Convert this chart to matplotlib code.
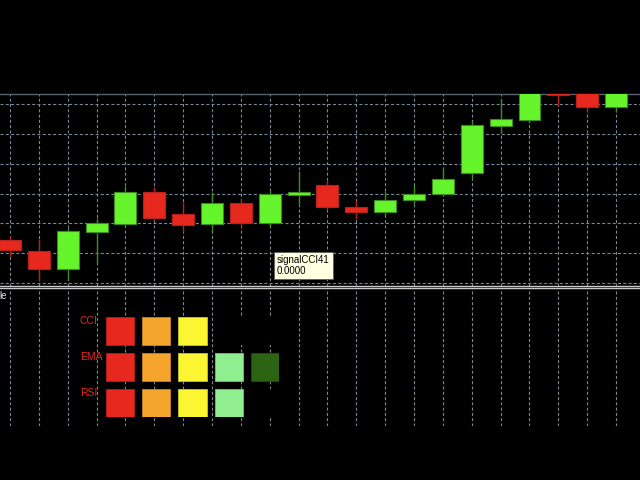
import numpy as np
import matplotlib
matplotlib.use("Agg")
from matplotlib import pyplot as plt
from matplotlib.patches import Rectangle

plt.rcParams['font.family'] = ['Liberation Sans', 'DejaVu Sans']
plt.rcParams['lines.scale_dashes'] = False

# candles (oldest -> newest)
opens = [1.08572, 1.08554, 1.08524, 1.08586, 1.08599, 1.08653, 1.08616, 1.08599, 1.08634, 1.08601, 1.08648,
         1.08664, 1.08627, 1.08619, 1.08639, 1.08649, 1.08684, 1.08763, 1.08773, 1.08832, 1.08827, 1.08795]
highs = [1.08579, 1.08574, 1.08592, 1.08609, 1.08663, 1.08661, 1.08636, 1.08653, 1.08641, 1.08656, 1.08688,
         1.08673, 1.08637, 1.08654, 1.08664, 1.08691, 1.08772, 1.08808, 1.08832, 1.08840, 1.08832, 1.08830]
lows = [1.08544, 1.08503, 1.08507, 1.08534, 1.08594, 1.08606, 1.08586, 1.08586, 1.08594, 1.08594, 1.08632,
        1.08622, 1.08607, 1.08614, 1.08632, 1.08649, 1.08674, 1.08751, 1.08768, 1.08797, 1.08787, 1.08787]
closes = [1.08555, 1.08524, 1.08587, 1.08601, 1.08653, 1.08609, 1.08597, 1.08634, 1.08601, 1.08649, 1.08653,
          1.08627, 1.08619, 1.08639, 1.08649, 1.08674, 1.08765, 1.08775, 1.08824, 1.08815, 1.08795, 1.08820]

# signal table in the sub window
indicators = ['CCI', 'EMA', 'RSI']
signal_levels = [3, 5, 4]
level_colors = ['#E6281E', '#F5A52C', '#FCF532', '#90EE90', '#2D6414']
level_edges = ['#B01E16', '#C07E20', '#C0BA20', '#6CB86C', '#1E4A0C']

tooltip_name = 'signalCCI41'
tooltip_value = 0.0

bull, bull_edge = '#66F52C', '#3C8C1E'
bear, bear_edge = '#E6281E', '#B8201A'
grid_col = '#778899'
dash = (0, (2.2, 1.6))

fig = plt.figure(figsize=(6.4, 4.8), dpi=100, facecolor='black')

W, H = 640.0, 480.0
step = 28.86
xlim = (-10 / step, (W - 10) / step)

# main price window
ax = fig.add_axes([0, 1 - 286 / H, 1, (286 - 94) / H], facecolor='black')
x = np.arange(len(opens))
o, h, l, c = map(np.array, (opens, highs, lows, closes))
up = c >= o
body_col = np.where(up, bull, bear)
edge_col = np.where(up, bull_edge, bear_edge)
ax.vlines(x, l, h, colors=edge_col, linewidth=1.0, zorder=2)
ax.bar(x, c - o, bottom=o, width=0.76, color=body_col, edgecolor=edge_col, linewidth=0.8, zorder=3)
ax.set_xlim(*xlim)
ax.set_ylim(1.084950, 1.088168)
ax.set_xticks(x)
ax.set_yticks(np.arange(1.0850, 1.08801, 0.0005))
ax.grid(True, color=grid_col, linestyle=dash, linewidth=0.8, zorder=0)
ax.set_axisbelow(True)
ax.tick_params(length=0, labelbottom=False, labelleft=False)
for s in ('left', 'right'):
    ax.spines[s].set_visible(False)
ax.spines['top'].set_color('#5A6470')
ax.spines['top'].set_linewidth(1.0)
ax.spines['bottom'].set_color('#C8C8C8')
ax.spines['bottom'].set_linewidth(1.0)

# sub window
sub = fig.add_axes([0, 1 - 426 / H, 1, (426 - 288) / H], facecolor='black')
sub.set_xlim(*xlim)
sub.set_ylim(0, 1)
sub.set_xticks(x)
sub.set_yticks([])
sub.grid(True, axis='x', color=grid_col, linestyle=dash, linewidth=0.8)
sub.tick_params(length=0, labelbottom=False, labelleft=False)
for s in ('left', 'right', 'bottom'):
    sub.spines[s].set_visible(False)
sub.spines['top'].set_color('#C8C8C8')
sub.spines['top'].set_linewidth(1.0)

# signal squares
ncol = len(level_colors)
sx, sy = 28 / 36.2, 28 / 36.0
pan = fig.add_axes([106 / W, 1 - 417 / H, (279 - 106) / W, 100 / H])
pan.patch.set_alpha(0)
pan.set_xlim(0, ncol - 1 + sx)
pan.set_ylim(len(indicators) - 1 + sy, 0)
pan.axis('off')
for i, (name, lev) in enumerate(zip(indicators, signal_levels)):
    for j in range(ncol):
        if j < lev:
            pan.add_patch(Rectangle((j, i), sx, sy, facecolor=level_colors[j],
                                    edgecolor=level_edges[j], linewidth=0.7))
        else:
            pan.add_patch(Rectangle((j, i), sx, sy, facecolor='black', edgecolor='none'))
    pan.text(-26 / 36.2, i - 0.02, name, color='#E6281E', fontsize=7.5,
             ha='left', va='top', clip_on=False, zorder=10)

# window label (cut off at the left edge) and tooltip
fig.text(7 / W, 1 - 291 / H, 'le', color='#DCDCDC', fontsize=7, ha='right', va='top')
fig.text(277 / W, 1 - 255 / H, f'{tooltip_name}\n{tooltip_value:.4f}', color='black',
         fontsize=7, ha='left', va='top', linespacing=1.15,
         bbox=dict(boxstyle='square,pad=0.3', facecolor='#FFFFE1', edgecolor='#606060', linewidth=0.7))

fig.savefig('out.png', dpi=100, facecolor='black')
